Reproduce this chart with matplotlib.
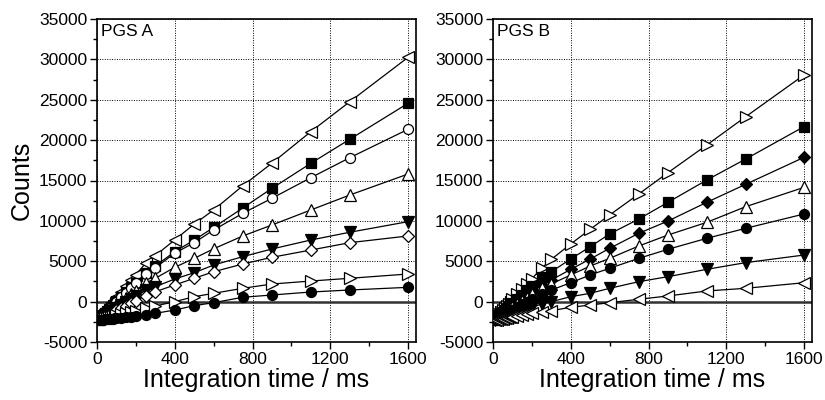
import matplotlib
matplotlib.use("Agg")
import matplotlib.pyplot as plt
from matplotlib.ticker import MultipleLocator

plt.rcParams['font.family'] = ['Liberation Sans', 'DejaVu Sans']
plt.rcParams['axes.unicode_minus'] = False

# Integration times (ms)
t = [10, 20, 30, 40, 50, 60, 70, 80, 90, 100, 125, 150, 175, 200,
     250, 300, 400, 500, 600, 750, 900, 1100, 1300, 1600]

# ---- PGS A ----
a_ltri = [-2020, -1740, -1450, -1170, -890, -610, -330, -40, 240, 520, 1230, 1930, 2640, 3340,
          4750, 5700, 7650, 9600, 11350, 14350, 17150, 21050, 24750, 30250]
a_sq = [-2070, -1840, -1600, -1370, -1140, -910, -670, -440, -210, 20, 610, 1190, 1770, 2350,
        3510, 4410, 6190, 7630, 9180, 11600, 14030, 17130, 20100, 24560]
a_circ = [-2070, -1840, -1620, -1390, -1160, -930, -700, -480, -250, -20, 550, 1120, 1690, 2260,
          3400, 4200, 6000, 7300, 8870, 10940, 12800, 15350, 17820, 21340]
a_utri = [-2120, -1930, -1750, -1570, -1390, -1200, -1020, -840, -650, -470, -10, 440, 900, 1360,
          2270, 2890, 4250, 5360, 6540, 8130, 9490, 11350, 13200, 15800]
a_dtri = [-2150, -2000, -1860, -1710, -1560, -1410, -1260, -1120, -970, -820, -450, -80, 290, 660,
          1400, 1850, 2800, 3580, 4530, 5570, 6520, 7630, 8590, 9900]
a_diam = [-2180, -2060, -1940, -1810, -1690, -1570, -1450, -1330, -1200, -1080, -780, -480, -170, 130,
          740, 1230, 2060, 2890, 3700, 4660, 5490, 6390, 7300, 8130]
a_rtri = [-2240, -2180, -2120, -2060, -2010, -1950, -1890, -1830, -1770, -1710, -1570, -1420, -1270, -1120,
          -830, -540, 0, 610, 1030, 1650, 2180, 2550, 2890, 3420]
a_fcirc = [-2270, -2250, -2220, -2200, -2170, -2140, -2120, -2090, -2070, -2040, -1980, -1910, -1850, -1780,
           -1650, -1450, -1040, -500, -130, 540, 820, 1190, 1440, 1770]

# ---- PGS B ----
b_rtri = [-2040, -1790, -1530, -1270, -1010, -760, -500, -240, 10, 270, 910, 1560, 2200, 2840,
          4130, 5240, 7140, 8960, 10730, 13330, 15970, 19400, 22900, 28070]
b_sq = [-2090, -1880, -1660, -1450, -1240, -1030, -820, -600, -390, -180, 350, 880, 1410, 1940,
        3000, 3700, 5280, 6800, 8380, 10230, 12300, 15060, 17660, 21670]
b_diam = [-2120, -1950, -1770, -1600, -1420, -1240, -1070, -890, -720, -540, -100, 340, 780, 1220,
          2100, 2680, 4000, 5280, 6600, 8460, 9980, 12300, 14530, 17870]
b_utri = [-2140, -1980, -1820, -1660, -1500, -1340, -1180, -1020, -860, -700, -300, 100, 500, 900,
          1700, 2200, 3300, 4410, 5360, 6890, 8250, 9820, 11760, 14150]
b_fcirc = [-2170, -2040, -1900, -1770, -1640, -1510, -1380, -1240, -1110, -980, -650, -320, 10, 340,
           1000, 1440, 2340, 3300, 4130, 5360, 6480, 7840, 9080, 10850]
b_dtri = [-2220, -2140, -2060, -1980, -1900, -1820, -1740, -1660, -1580, -1500, -1300, -1100, -900, -700,
          -300, 0, 610, 1030, 1650, 2470, 3090, 4000, 4830, 5770]
b_ltri = [-2260, -2220, -2170, -2130, -2090, -2050, -2010, -1960, -1920, -1880, -1780, -1670, -1570, -1460,
          -1250, -1120, -700, -420, -130, 290, 700, 1320, 1650, 2340]

panel_titles = ["PGS A", "PGS B"]
x_label = "Integration time / ms"
y_label = "Counts"

series_a = [(a_ltri, '<', 'white'), (a_sq, 's', 'black'), (a_circ, 'o', 'white'),
            (a_utri, '^', 'white'), (a_dtri, 'v', 'black'), (a_diam, 'D', 'white'),
            (a_rtri, '>', 'white'), (a_fcirc, 'o', 'black')]
series_b = [(b_rtri, '>', 'white'), (b_sq, 's', 'black'), (b_diam, 'D', 'black'),
            (b_utri, '^', 'white'), (b_fcirc, 'o', 'black'), (b_dtri, 'v', 'black'),
            (b_ltri, '<', 'white')]

fig = plt.figure(figsize=(8.25, 4.0), dpi=100)
ax1 = fig.add_axes([0.1176, 0.145, 0.3864, 0.8075])
ax2 = fig.add_axes([0.5976, 0.145, 0.3864, 0.8075])

msize = {'<': 8, '>': 8, '^': 8, 'v': 8, 's': 6.5, 'o': 7.2, 'D': 5.8}

for ax, series, title in [(ax1, series_a, panel_titles[0]), (ax2, series_b, panel_titles[1])]:
    ax.set_xlim(0, 1640)
    ax.set_ylim(-5000, 35000)
    ax.xaxis.set_major_locator(MultipleLocator(400))
    ax.xaxis.set_minor_locator(MultipleLocator(200))
    ax.yaxis.set_major_locator(MultipleLocator(5000))
    ax.yaxis.set_minor_locator(MultipleLocator(2500))
    ax.grid(True, which='major', linestyle=(0, (1, 1.5)), color='black', linewidth=0.7)
    ax.set_axisbelow(True)
    ax.axhline(0, color='#333333', linewidth=1.8, zorder=1.5)
    for vals, m, fc in series:
        ax.plot(t, vals, color='black', linewidth=0.9, marker=m, markersize=msize[m],
                markerfacecolor=fc, markeredgecolor='black', markeredgewidth=0.9, zorder=3)
    ax.tick_params(which='major', direction='out', length=5, width=1, labelsize=12.5, pad=2)
    ax.tick_params(which='minor', direction='out', length=3, width=1)
    for s in ax.spines.values():
        s.set_linewidth(1.2)
    ax.text(0.012, 0.985, title, transform=ax.transAxes, ha='left', va='top', fontsize=12.5)
    ax.set_xlabel(x_label, fontsize=18, labelpad=1)

ax1.set_ylabel(y_label, fontsize=18, labelpad=4)

fig.savefig("out.png", dpi=100)
